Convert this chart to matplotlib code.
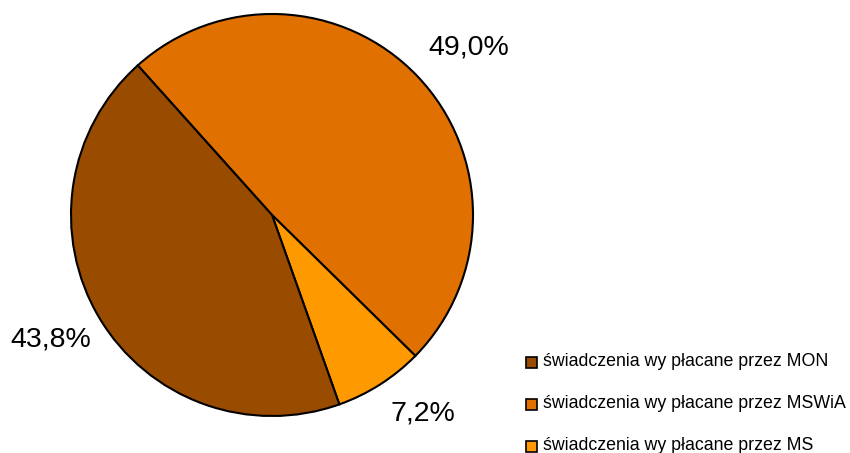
import matplotlib
matplotlib.use("Agg")
import matplotlib.pyplot as plt
from matplotlib.patches import Rectangle

plt.rcParams['font.family'] = ['Liberation Sans', 'DejaVu Sans']

# Data (clockwise order starting from the upper-left boundary)
categories = ["świadczenia wy płacane przez MSWiA",
              "świadczenia wy płacane przez MS",
              "świadczenia wy płacane przez MON"]
values = [49.0, 7.2, 43.8]
labels = ["49,0%", "7,2%", "43,8%"]
colors = ["#E07000", "#FF9900", "#994C00"]
legend_order = [2, 0, 1]  # MON, MSWiA, MS

W, H = 850, 453
fig = plt.figure(figsize=(W / 100, H / 100), dpi=100)
ax = fig.add_axes([0, 0, 1, 1])
ax.set_xlim(0, W)
ax.set_ylim(0, H)
ax.set_aspect('equal')
ax.axis('off')

cx, cy, r = 272, H - 215, 201
wedges, _ = ax.pie(values, colors=colors, startangle=131.9, counterclock=False,
                   center=(cx, cy), radius=r, frame=True,
                   wedgeprops=dict(edgecolor='black', linewidth=1.5))
ax.set_xlim(0, W)
ax.set_ylim(0, H)
ax.axis('off')

label_pos = [(469, H - 48), (423, H - 413), (51, H - 340)]
for (x, y), t in zip(label_pos, labels):
    ax.text(x, y, t, fontsize=20.5, ha='center', va='center', color='black')

# Legend
for k, idx in enumerate(legend_order):
    y = H - (362 + 42 * k)
    ax.add_patch(Rectangle((526, y - 5.5), 11, 11, facecolor=colors[idx],
                           edgecolor='black', linewidth=1.2))
    ax.text(543, y, categories[idx], fontsize=12.8, ha='left', va='center', color='black')

fig.savefig("out.png", dpi=100)
